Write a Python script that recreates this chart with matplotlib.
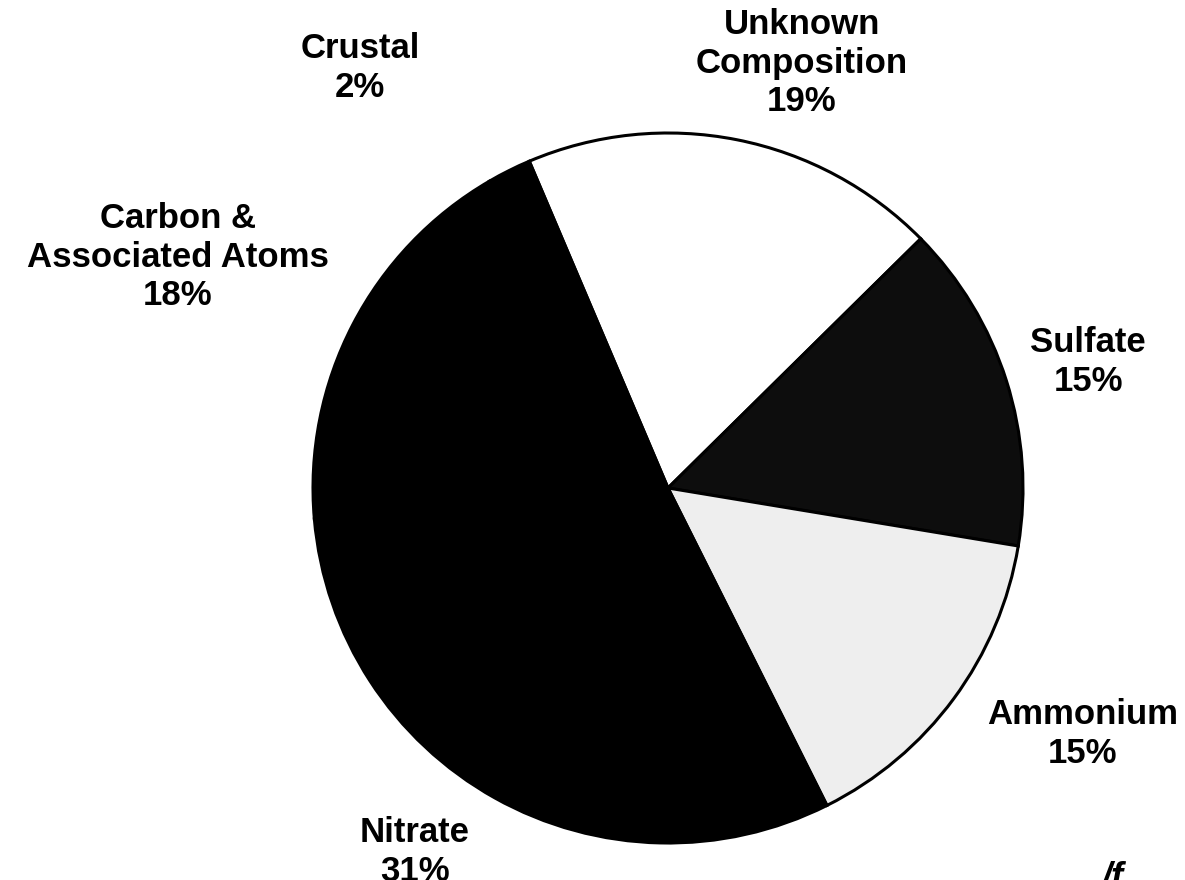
import matplotlib.pyplot as plt

plt.rcParams['font.family'] = ['Liberation Sans', 'DejaVu Sans']

# shares of fine particle mass, clockwise from the top
labels = ['Unknown\nComposition', 'Sulfate', 'Ammonium', 'Nitrate',
          'Carbon &\nAssociated Atoms', 'Crustal']
shares = [19, 15, 15, 31, 18, 2]
fills = ['white', '#0d0d0d', '#eeeeee', 'black', 'black', 'black']

# label anchor points (pixels from the top left)
label_pos = [(802, 63), (1088, 362), (1083, 734), (415, 852), (178, 257), (360, 68)]

W, H = 1185, 880
fig = plt.figure(figsize=(W / 100, H / 100), dpi=100)
ax = fig.add_axes([0, 0, 1, 1])

cx, cy, r = 668, H - 488, 355
ax.pie(shares, colors=fills, startangle=113, counterclock=False,
       center=(cx, cy), radius=r, frame=True,
       wedgeprops=dict(edgecolor='black', linewidth=2.2))
ax.set_xlim(0, W)
ax.set_ylim(0, H)
ax.set_aspect('equal')
ax.axis('off')

for lab, val, (x, y) in zip(labels, shares, label_pos):
    ax.text(x, H - y, f'{lab}\n{val}%', ha='center', va='center',
            fontsize=25, fontweight='bold', linespacing=1.2)

# page mark cut off at the bottom edge
ax.text(1112, 2, '/f', ha='center', va='center', fontsize=26,
        fontstyle='italic', fontweight='bold', clip_on=False)

fig.savefig('out.png', dpi=100)
